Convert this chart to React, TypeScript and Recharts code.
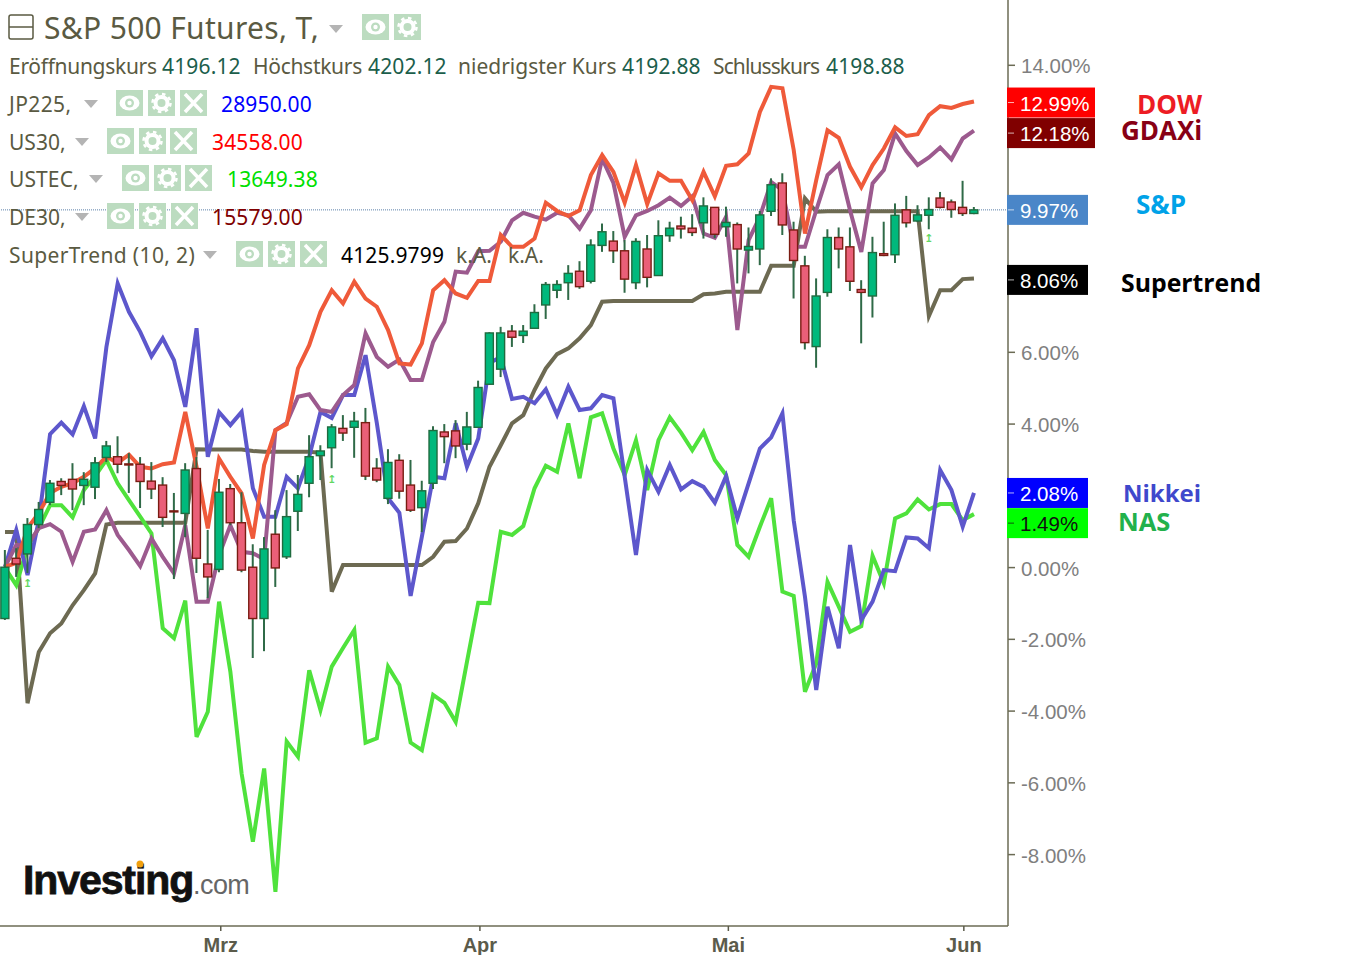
import React from "react";
import { ComposedChart, Line, Bar, XAxis, YAxis, ReferenceLine, ReferenceDot } from "recharts";

const opens = [-1.42,.26,.38,1.20,1.82,2.40,2.46,2.29,2.24,3.07,3.09,2.89,2.88,2.41,2.30,1.58,1.51,2.76,.10,-.05,2.20,1.25,.01,-1.42,.93,.30,1.57,2.35,3.12,3.34,3.88,3.91,4.04,2.77,1.93,2.99,2.30,1.67,2.35,3.78,3.81,3.44,3.91,5.11,5.53,6.59,6.47,6.67,7.32,7.73,7.94,8.26,7.98,8.98,9.10,8.83,7.94,8.88,8.14,9.25,9.52,9.46,9.61,10.04,9.50,9.56,8.85,8.88,9.93,10.72,9.41,8.41,6.16,7.67,9.20,8.94,7.75,7.57,8.75,8.72,9.97,9.66,9.82,10.30,10.19,10.04,9.87];
const closes = [.01,.10,1.20,1.62,2.35,2.29,2.19,2.46,2.92,3.39,2.88,2.86,2.40,2.19,1.40,1.56,2.72,.26,-.26,2.10,1.25,-.07,-1.42,.52,-.01,1.42,2.04,3.09,3.25,3.92,3.75,4.08,2.55,2.44,2.93,2.13,1.60,2.14,3.82,3.65,3.39,3.92,5.02,6.54,6.54,6.42,6.59,7.11,7.89,7.89,8.20,7.83,8.99,9.36,8.83,8.04,9.09,8.09,9.25,9.46,9.44,9.34,10.08,9.29,9.62,8.88,8.95,9.83,10.67,9.55,8.56,6.27,7.57,9.20,8.88,7.98,7.67,8.78,8.70,9.82,9.61,9.83,9.98,10.04,9.98,9.87,9.97];
const highs = [.49,.54,1.38,1.83,2.44,2.49,2.91,2.66,3.08,3.53,3.66,3.19,3.08,2.94,2.52,2.08,2.91,3.08,1.05,2.47,2.33,2.10,.65,.85,1.60,2.16,2.58,3.69,3.41,4.00,4.25,4.34,4.45,3.05,3.30,3.16,3.00,2.42,3.94,4.00,4.11,4.34,5.21,6.56,6.71,6.76,6.76,7.34,7.96,8.01,8.43,8.54,9.15,9.59,9.38,9.13,9.18,9.27,9.68,9.64,9.78,9.85,10.32,10.05,10.06,9.62,9.48,9.94,10.85,10.99,9.64,8.69,8.06,9.43,9.48,9.48,8.01,9.22,9.64,10.15,10.36,10.10,10.32,10.47,10.26,10.78,10.05];
const lows = [-1.46,-.26,-.15,1.10,1.74,2.02,1.60,1.74,1.91,2.94,2.63,2.08,1.66,1.91,1.13,-.32,.85,-.15,-.85,-.13,1.18,-.13,-2.52,-2.33,-.54,.24,1.02,1.96,2.44,2.77,3.53,3.06,2.44,2.38,1.77,1.92,1.55,.99,2.19,2.91,3.05,3.27,3.89,5.09,5.31,6.15,6.26,6.67,6.93,7.51,7.46,7.77,7.92,8.80,8.49,7.66,7.76,7.81,8.14,9.08,9.17,9.24,9.17,9.18,9.22,7.92,8.20,8.43,9.80,9.27,7.50,6.08,5.57,7.55,8.34,7.71,6.25,6.97,8.68,8.49,9.48,9.63,9.43,10.01,9.75,9.80,9.85];

const dow = [.02,.13,1.10,1.52,2.08,2.25,2.35,2.53,2.77,3.09,2.92,3.15,2.81,2.76,2.88,2.93,4.34,2.81,1.09,3.04,2.53,2.07,.81,2.86,3.83,4.00,5.55,6.20,7.13,7.73,7.36,7.97,7.50,7.27,6.62,5.69,5.66,6.25,7.73,8.01,7.64,7.52,7.99,7.99,9.27,8.94,8.94,9.17,10.17,9.94,9.80,9.96,10.94,11.50,11.03,10.17,11.22,10.13,10.99,10.78,10.78,10.24,11.03,10.35,11.20,11.24,11.54,12.70,13.40,13.36,11.64,9.31,10.80,12.19,11.98,11.17,10.60,11.22,11.68,12.27,12.03,12.08,12.61,12.86,12.81,12.92,12.99];
const gdax = [.02,.63,.63,1.10,1.21,1.00,.16,1.00,1.06,1.60,.91,.49,.04,.81,.30,-.16,1.18,-.95,-.95,.35,1.18,.44,.40,.23,3.83,4.03,4.76,4.83,4.39,4.34,4.81,5.09,6.53,5.87,5.60,5.80,5.23,5.23,6.29,6.85,8.25,8.22,8.82,8.83,9.08,9.68,9.89,9.78,9.70,9.89,9.82,9.45,9.96,11.40,10.72,9.22,9.82,9.94,10.10,10.31,10.08,10.35,9.31,9.19,9.78,6.62,9.13,9.78,10.75,10.52,8.94,8.94,9.96,10.94,11.24,9.96,8.80,10.71,11.08,12.10,11.61,11.22,11.43,11.71,11.38,11.96,12.18];
const jp225 = [.02,1.05,-.21,1.32,3.72,4.04,3.71,4.50,3.60,6.15,7.92,7.13,6.57,5.89,6.39,5.78,4.48,6.67,3.09,4.33,3.97,4.34,2.21,1.42,1.42,2.53,2.21,3.09,4.34,4.17,4.81,4.81,5.92,4.03,1.93,1.53,-.79,.86,2.53,2.49,4.02,2.81,3.60,5.70,5.87,4.70,4.76,4.58,4.97,4.26,5.04,4.39,4.44,4.81,4.72,2.53,.35,2.72,2.11,2.86,2.18,2.41,2.25,1.81,2.55,1.37,2.35,3.32,3.63,4.30,1.32,-.81,-3.41,-1.09,-2.25,.63,-1.46,-.95,-.07,-.10,.84,.81,.54,2.72,2.16,1.14,2.08];
const nas = [-.01,-.49,.58,1.10,1.74,1.74,1.40,2.16,2.55,3.00,2.35,1.88,1.42,.95,-1.69,-1.97,-.92,-4.72,-4.02,-.95,-2.90,-5.74,-7.64,-5.60,-9.04,-4.85,-5.27,-2.86,-3.97,-2.76,-2.24,-1.74,-4.88,-4.76,-2.76,-3.27,-4.88,-5.09,-3.55,-3.77,-4.30,-2.63,-.98,-.99,1.00,.91,1.16,2.21,2.84,2.67,4.02,2.49,4.19,4.30,3.32,2.58,3.55,2.16,3.55,4.19,3.76,3.27,3.78,3.00,2.58,.63,.30,1.14,1.93,-.67,-.79,-3.46,-2.67,-.40,-1.09,-1.79,-1.63,.33,-.44,1.37,1.51,1.90,1.62,1.77,1.77,1.32,1.49];
const superTrend = [.99,.99,-3.78,-2.35,-1.83,-1.56,-1.05,-.63,-.16,1.20,1.25,1.25,1.25,1.25,1.25,1.25,1.25,3.30,3.29,3.29,3.29,3.29,3.25,3.23,3.23,3.23,3.23,3.23,3.20,-.67,.07,.07,.07,.07,.07,.07,.07,.07,.30,.72,.74,1.09,1.79,2.81,3.41,4.02,4.25,4.95,5.55,5.95,6.11,6.39,6.76,7.41,7.43,7.43,7.43,7.43,7.43,7.43,7.43,7.43,7.62,7.64,7.69,7.69,7.69,7.69,8.41,8.41,8.41,10.29,9.92,9.93,9.93,9.93,9.93,9.93,9.93,9.93,9.93,9.93,7.01,7.73,7.73,8.04,8.06];

const signalIndex = [2, 29, 82];
const signalValue = [-.44, 2.47, 9.2];
const monthTicks = [19.15, 42.15, 64.2, 85.1];
const monthLabels = ["Mrz", "Apr", "Mai", "Jun"];
const axisTicks = [14, 6, 4, 0, -2, -4, -6, -8];
const lastValues = [12.99, 12.18, 9.97, 8.06, 2.08, 1.49];
const lastNames = ["DOW", "GDAXi", "S&P", "Supertrend", "Nikkei", "NAS"];

const badgeLook: any[] = [
  { bg: "#ff0000", fg: "#fff", w: 88, dy: 1, tagX: 1137, tagDy: 3, tagFill: "#ed1c24", tagSize: 26 },
  { bg: "#800000", fg: "#fff", w: 88, dy: 2.5, tagX: 1121, tagDy: 0, tagFill: "#880015", tagSize: 26 },
  { bg: "#4a86c8", fg: "#fff", w: 81, dy: 0, tagX: 1136, tagDy: -5, tagFill: "#00a2e8", tagSize: 26 },
  { bg: "#000000", fg: "#fff", w: 81, dy: 1.5, tagX: 1121, tagDy: 5, tagFill: "#000", tagSize: 24.8 },
  { bg: "#0000ff", fg: "#fff", w: 81, dy: 0, tagX: 1123, tagDy: 0, tagFill: "#3f48cc", tagSize: 24 },
  { bg: "#00ff00", fg: "#111", w: 81, dy: 9, tagX: 1118, tagDy: 8, tagFill: "#22b14c", tagSize: 25.5 },
];

const rows = opens.map((o, i) => ({
  i,
  range: [lows[i], highs[i]],
  open: o,
  close: closes[i],
  high: highs[i],
  low: lows[i],
  dow: dow[i],
  gdax: gdax[i],
  jp225: jp225[i],
  nas: nas[i],
  st: superTrend[i],
}));

const Candle = (p: any) => {
  const { x, y, width, height, payload } = p;
  const k = height / (payload.high - payload.low);
  const at = (v: number) => y + (payload.high - v) * k;
  const cx = x + width / 2;
  const up = payload.close >= payload.open;
  const top = at(Math.max(payload.open, payload.close));
  const bot = at(Math.min(payload.open, payload.close));
  return (
    <g>
      <line x1={cx} x2={cx} y1={y} y2={y + height} stroke="#2f6a47" strokeWidth={2} />
      <rect x={cx - 4} width={8} y={top} height={Math.max(bot - top, 1)} fill={up ? "#00b97c" : "#ea5f78"} stroke={up ? "#1f6b3f" : "#7a1c12"} strokeWidth={1.4} />
    </g>
  );
};

const YTick = (p: any) => {
  const { y, payload } = p;
  const v = payload.value;
  const ix = lastValues.indexOf(v);
  const font = "'Liberation Sans', Arial, sans-serif";
  if (ix < 0) {
    return (
      <g>
        <line x1={1008} x2={1015} y1={y} y2={y} stroke="#6b6b55" strokeWidth={1.5} />
        <text x={1021} y={y + 8} fontSize={20.5} fontFamily={font} fill="#7f7f7f">{v.toFixed(2)}%</text>
      </g>
    );
  }
  const b = badgeLook[ix];
  const cy = y + b.dy;
  return (
    <g>
      <rect x={1007} y={cy - 15} width={b.w} height={30} fill={b.bg} />
      <line x1={1008} x2={1014} y1={cy} y2={cy} stroke={b.fg} strokeOpacity={0.7} strokeWidth={1} />
      <text x={1020} y={cy + 8} fontSize={20.5} fontFamily={font} fill={b.fg}>{v.toFixed(2)}%</text>
      <text x={b.tagX} y={y + b.tagDy + 9} fontSize={b.tagSize} fontWeight={700} fontFamily="'Open Sans', sans-serif" fill={b.tagFill}>{lastNames[ix]}</text>
    </g>
  );
};

const XTick = (p: any) => {
  const { x, payload } = p;
  const label = monthLabels[monthTicks.indexOf(payload.value)];
  return (
    <g>
      <line x1={x} x2={x} y1={926} y2={931} stroke="#5b5b4b" strokeWidth={1.5} />
      <text x={x} y={952} textAnchor="middle" fontSize={20} fontWeight={700} fontFamily="'Liberation Sans', Arial, sans-serif" fill="#5b5b4b">{label}</text>
    </g>
  );
};

const Arrow = (p: any) => {
  const { cx, cy } = p;
  return <text x={cx} y={cy + 4} textAnchor="middle" fontSize={11} fontWeight={700} fontFamily="'DejaVu Sans', sans-serif" fill="#62d862">↥</text>;
};

const Tri = ({ x, y }: any) => (
  <svg style={{ position: "absolute", left: x, top: y }} width={14} height={8}>
    <polygon points="0,0 14,0 7,8" fill="#b4b4b4" />
  </svg>
);

const Icon = ({ x, y, kind }: any) => (
  <svg style={{ position: "absolute", left: x, top: y }} width={27} height={26}>
    <rect width={27} height={26} fill="#bcdcc0" />
    {kind === "eye" && (
      <g>
        <ellipse cx={13.5} cy={13} rx={10} ry={7.5} fill="#fff" />
        <circle cx={13.5} cy={13} r={4.5} fill="#bcdcc0" />
        <circle cx={13.5} cy={13} r={2.2} fill="#fff" />
      </g>
    )}
    {kind === "gear" && (
      <g>
        <circle cx={13.5} cy={13} r={6} fill="none" stroke="#fff" strokeWidth={4} />
        <circle cx={13.5} cy={13} r={9} fill="none" stroke="#fff" strokeWidth={2.5} strokeDasharray="3.5 3.6" />
      </g>
    )}
    {kind === "x" && <path d="M5 4 L22 22 M22 4 L5 22" stroke="#fff" strokeWidth={3.5} />}
  </svg>
);

const uiFont = "'Noto Sans', sans-serif";
const Txt = ({ x, y, size = 21, color = "#5a5a42", children, spacing = 0 }: any) => (
  <div style={{ position: "absolute", left: x, top: y, fontFamily: uiFont, fontSize: size, color, lineHeight: 1, whiteSpace: "nowrap", letterSpacing: spacing }}>{children}</div>
);

const legendRows: any[] = [
  { name: "JP225,", sp: 0.4, y: 94, tri: 84, ic: [116, 148, 180], val: "28950.00", vx: 221, col: "#0000ff" },
  { name: "US30,", sp: 0, y: 132, tri: 75, ic: [107, 139, 170], val: "34558.00", vx: 212, col: "#ff0000" },
  { name: "USTEC,", sp: 0.1, y: 169, tri: 89, ic: [122, 154, 185], val: "13649.38", vx: 227, col: "#00e000" },
  { name: "DE30,", sp: 0, y: 207, tri: 75, ic: [107, 139, 171], val: "15579.00", vx: 212, col: "#800000" },
  { name: "SuperTrend (10, 2)", sp: 0.35, y: 245, tri: 203, ic: [236, 268, 300], val: "4125.9799", vx: 341, col: "#000000" },
];
const kinds = ["eye", "gear", "x"];

export default function App() {
  return (
    <div style={{ position: "absolute", left: 0, top: 0, width: 1366, height: 955, overflow: "hidden", background: "#fff" }}>
      <ComposedChart width={1366} height={955} data={rows} margin={{ top: 0, right: 0, bottom: 0, left: 0 }}>
        <XAxis dataKey="i" type="number" domain={[-0.444, 89.02]} ticks={monthTicks} interval={0} height={29} axisLine={{ stroke: "#6b6b55", strokeWidth: 1.5 }} tickLine={false} tick={<XTick />} />
        <YAxis orientation="right" width={358} type="number" domain={[-9.99, 15.82]} ticks={[...axisTicks, ...lastValues]} interval={0} axisLine={{ stroke: "#6b6b55", strokeWidth: 1.5 }} tickLine={false} tick={<YTick />} />
        <ReferenceLine y={9.97} stroke="#5b7fa8" strokeDasharray="1 1" strokeWidth={1} />
        <Line dataKey="st" stroke="#6d6a52" strokeWidth={4} dot={false} activeDot={false} isAnimationActive={false} />
        <Line dataKey="nas" stroke="#4fe23c" strokeWidth={4} dot={false} activeDot={false} isAnimationActive={false} />
        <Line dataKey="jp225" stroke="#5d57cc" strokeWidth={4} dot={false} activeDot={false} isAnimationActive={false} />
        <Line dataKey="gdax" stroke="#9c5a8e" strokeWidth={4} dot={false} activeDot={false} isAnimationActive={false} />
        <Line dataKey="dow" stroke="#ef5a3a" strokeWidth={4} dot={false} activeDot={false} isAnimationActive={false} />
        <Bar dataKey="range" barSize={9} shape={<Candle />} isAnimationActive={false} zIndex={500} />
        {signalIndex.map((ix, n) => (
          <ReferenceDot key={ix} x={ix} y={signalValue[n]} shape={<Arrow />} />
        ))}
      </ComposedChart>

      <svg style={{ position: "absolute", left: 8, top: 14 }} width={26} height={26}>
        <rect x={1} y={1} width={24} height={24} rx={2} fill="none" stroke="#5a5a42" strokeWidth={1.5} />
        <line x1={1} x2={25} y1={13} y2={13} stroke="#5a5a42" strokeWidth={1.5} />
      </svg>
      <Txt x={44} y={13} size={30} spacing={0.32}>S&amp;P 500 Futures, T,</Txt>
      <Tri x={329} y={25} />
      <Icon x={362} y={14} kind="eye" />
      <Icon x={394} y={14} kind="gear" />

      <Txt x={9} y={56} spacing={-0.3}>Eröffnungskurs</Txt>
      <Txt x={162} y={56} color="#1b5e4b" spacing={0.15}>4196.12</Txt>
      <Txt x={253} y={56} spacing={-0.3}>Höchstkurs</Txt>
      <Txt x={368} y={56} color="#1b5e4b" spacing={0.15}>4202.12</Txt>
      <Txt x={458} y={56}>niedrigster Kurs</Txt>
      <Txt x={622} y={56} color="#1b5e4b" spacing={0.15}>4192.88</Txt>
      <Txt x={713} y={56} spacing={-0.9}>Schlusskurs</Txt>
      <Txt x={826} y={56} color="#1b5e4b" spacing={0.15}>4198.88</Txt>

      {legendRows.map((r) => (
        <React.Fragment key={r.name}>
          <Txt x={9} y={r.y} spacing={r.sp}>{r.name}</Txt>
          <Tri x={r.tri} y={r.y + 6} />
          {r.ic.map((ix: number, n: number) => (
            <Icon key={n} x={ix} y={r.y - 4} kind={kinds[n]} />
          ))}
          <Txt x={r.vx} y={r.y} color={r.col} spacing={0.15}>{r.val}</Txt>
        </React.Fragment>
      ))}
      <Txt x={456} y={245}>k.A.</Txt>
      <Txt x={508} y={245}>k.A.</Txt>

      <div style={{ position: "absolute", left: 23, top: 860, fontFamily: "'Liberation Sans', sans-serif", fontWeight: 700, fontSize: 41, letterSpacing: -1.1, color: "#111", lineHeight: 1, whiteSpace: "nowrap", WebkitTextStroke: "0.8px #111" }}>
        Investing<span style={{ fontWeight: 400, fontSize: 27, letterSpacing: -0.6, color: "#666", WebkitTextStroke: "0" }}>.com</span>
      </div>
      <svg style={{ position: "absolute", left: 135, top: 859 }} width={10} height={10}>
        <circle cx={5} cy={5} r={3.5} fill="#f0a010" />
      </svg>
    </div>
  );
}
